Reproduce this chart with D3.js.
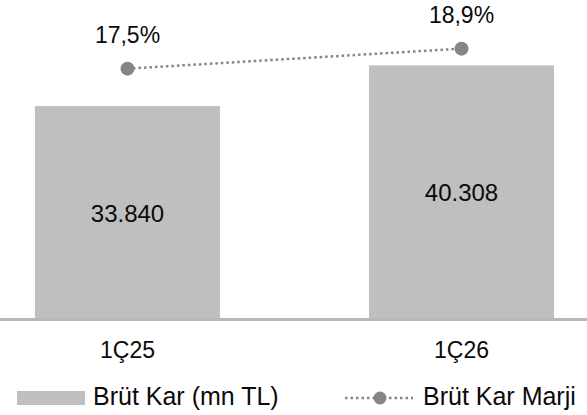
<!DOCTYPE html>
<html><head><meta charset="utf-8">
<script src="https://cdn.jsdelivr.net/npm/d3@7"></script>
<style>
html,body{margin:0;padding:0;background:#fff;}
svg{display:block;}
text{font-family:"Liberation Sans",Arial,sans-serif;fill:#0a0a0a;}
</style></head>
<body>
<script>
const categories = ["1Ç25", "1Ç26"];
const grossProfit = [33840, 40308];
const grossProfitLabels = ["33.840", "40.308"];
const margin = [17.5, 18.9];
const marginLabels = ["17,5%", "18,9%"];
const legendLabels = ["Brüt Kar (mn TL)", "Brüt Kar Marji"];

const W = 587, H = 415;
const svg = d3.select("body").append("svg").attr("width", W).attr("height", H);

const x = d3.scaleBand().domain(categories).range([-39.5, 628.5]).paddingInner(0.446).paddingOuter(0.223);
const y = d3.scaleLinear().domain([0, 50700]).range([319, 0]);
const y2 = d3.scaleLinear().domain([0, 22.3]).range([319, 0]);
const cx = c => x(c) + x.bandwidth() / 2;

const barColor = "#bfbfbf", dotColor = "#858585";

// bars
svg.selectAll("rect.bar").data(categories).join("rect")
  .attr("class", "bar")
  .attr("x", d => x(d)).attr("width", x.bandwidth())
  .attr("y", (d, i) => y(grossProfit[i]))
  .attr("height", (d, i) => y(0) - y(grossProfit[i]))
  .attr("fill", barColor);

// baseline axis
const xAxis = d3.axisBottom(x).tickSize(0).tickPadding(24);
const ax = svg.append("g").attr("transform", `translate(0,${y(0)})`).call(xAxis);
ax.select(".domain").remove();
ax.append("line").attr("x1", 0).attr("x2", W).attr("y1", 0.5).attr("y2", 0.5)
  .attr("stroke", "#b8b8b8").attr("stroke-width", 3);
ax.selectAll(".tick text").attr("font-size", 23).attr("fill", "#0a0a0a")
  .attr("font-family", '"Liberation Sans",Arial,sans-serif').attr("dy", "0.71em")
  .attr("y", 23);

// bar value labels
svg.selectAll("text.val").data(categories).join("text")
  .attr("class", "val")
  .attr("x", d => cx(d))
  .attr("y", (d, i) => (y(grossProfit[i]) + y(0)) / 2 + 9)
  .attr("text-anchor", "middle").attr("font-size", 24)
  .text((d, i) => grossProfitLabels[i]);

// margin line
const line = d3.line().x((d, i) => cx(categories[i])).y(d => y2(d));
svg.append("path").datum(margin).attr("d", line)
  .attr("fill", "none").attr("stroke", dotColor).attr("stroke-width", 2.5)
  .attr("stroke-dasharray", "2.5 3");
svg.selectAll("circle.pt").data(margin).join("circle")
  .attr("class", "pt")
  .attr("cx", (d, i) => cx(categories[i])).attr("cy", d => y2(d))
  .attr("r", 7).attr("fill", dotColor);
svg.selectAll("text.pct").data(margin).join("text")
  .attr("class", "pct")
  .attr("x", (d, i) => cx(categories[i]))
  .attr("y", d => y2(d) - 26)
  .attr("text-anchor", "middle").attr("font-size", 23)
  .text((d, i) => marginLabels[i]);

// legend
const lg = svg.append("g");
lg.append("rect").attr("x", 17).attr("y", 391).attr("width", 68).attr("height", 14).attr("fill", barColor);
lg.append("text").attr("x", 93).attr("y", 405).attr("font-size", 25).text(legendLabels[0]);
lg.append("line").attr("x1", 345).attr("x2", 413).attr("y1", 398).attr("y2", 398)
  .attr("stroke", dotColor).attr("stroke-width", 2.5).attr("stroke-dasharray", "2.5 3");
lg.append("circle").attr("cx", 380).attr("cy", 398).attr("r", 6.5).attr("fill", dotColor);
lg.append("text").attr("x", 423).attr("y", 405).attr("font-size", 25).text(legendLabels[1]);
</script>
</body></html>
